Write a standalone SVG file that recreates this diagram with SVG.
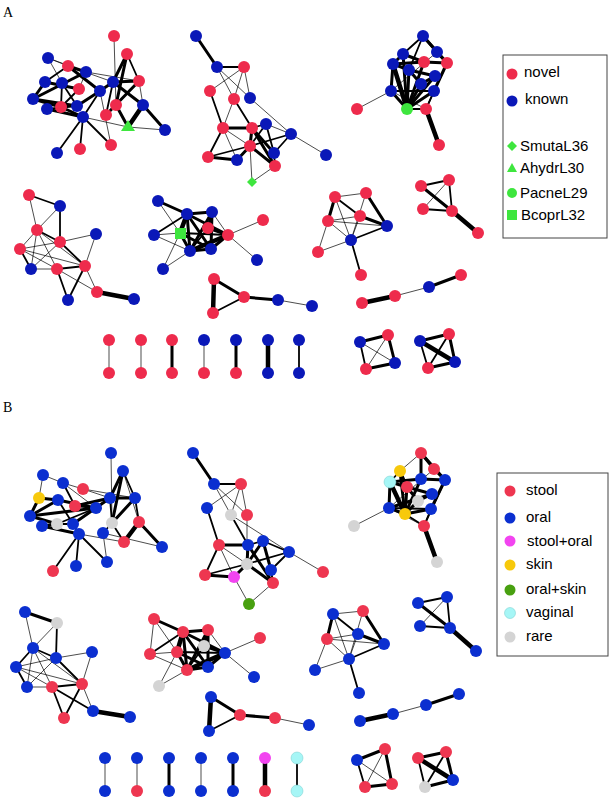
<svg xmlns="http://www.w3.org/2000/svg" width="612" height="800" viewBox="0 0 612 800">
<style>
line{stroke:#000;stroke-linecap:round}
.a{stroke-width:.7}.b{stroke-width:1.8}.c{stroke-width:3}.d{stroke-width:4.5}
circle{stroke:none}
.R{fill:#ee2b4c}.K{fill:#0a18b8}.S{fill:#ee3650}.O{fill:#0b2fd0}.M{fill:#f244f0}.Y{fill:#f7c90c}.G{fill:#48a010}.V{fill:#a6f6f6;stroke:#7cc;stroke-width:.5}.Q{fill:#d4d4d4}.L{fill:#3ee63e}
text{font-family:"Liberation Sans",Arial,sans-serif;font-size:15px;fill:#000}
.p{font-family:"Liberation Serif",serif;font-size:14px}
</style>
<rect width="612" height="800" fill="#fff"/>
<text class="p" x="3" y="17">A</text>
<text class="p" x="3" y="412">B</text>
<g id="connectors">
<!-- A cluster1 -->
<line class="a" x1="114" y1="36" x2="116" y2="105"/><line class="c" x1="127" y1="54" x2="113" y2="82"/><line class="b" x1="127" y1="54" x2="139" y2="81"/><line class="c" x1="127" y1="54" x2="116" y2="105"/>
<line class="a" x1="48" y1="58" x2="68" y2="66"/><line class="a" x1="48" y1="58" x2="86" y2="72"/><line class="b" x1="68" y1="66" x2="45" y2="82"/><line class="c" x1="68" y1="66" x2="86" y2="72"/><line class="c" x1="68" y1="66" x2="100" y2="91"/><line class="a" x1="68" y1="66" x2="113" y2="82"/>
<line class="c" x1="86" y1="72" x2="33" y2="99"/><line class="c" x1="45" y1="82" x2="33" y2="99"/><line class="c" x1="45" y1="82" x2="79" y2="89"/><line class="b" x1="62" y1="83" x2="61" y2="107"/><line class="b" x1="62" y1="83" x2="77" y2="106"/><line class="b" x1="79" y1="89" x2="61" y2="107"/>
<line class="c" x1="33" y1="99" x2="77" y2="106"/><line class="c" x1="33" y1="99" x2="61" y2="107"/><line class="b" x1="47" y1="109" x2="77" y2="106"/><line class="c" x1="47" y1="109" x2="83" y2="117"/><line class="c" x1="61" y1="107" x2="83" y2="117"/><line class="c" x1="77" y1="106" x2="100" y2="91"/>
<line class="c" x1="100" y1="91" x2="113" y2="82"/><line class="c" x1="113" y1="82" x2="139" y2="81"/><line class="c" x1="113" y1="82" x2="143" y2="105"/><line class="b" x1="113" y1="82" x2="106" y2="115"/><line class="a" x1="139" y1="81" x2="143" y2="105"/><line class="c" x1="139" y1="81" x2="106" y2="115"/>
<line class="a" x1="116" y1="105" x2="106" y2="115"/><line class="c" x1="116" y1="105" x2="128" y2="127"/><line class="d" x1="143" y1="105" x2="128" y2="127"/><line class="c" x1="143" y1="105" x2="165" y2="130"/><line class="a" x1="128" y1="127" x2="165" y2="130"/>
<line class="b" x1="83" y1="117" x2="57" y2="153"/><line class="b" x1="83" y1="117" x2="80" y2="149"/><line class="b" x1="83" y1="117" x2="111" y2="145"/><line class="a" x1="100" y1="91" x2="111" y2="145"/><line class="a" x1="83" y1="117" x2="128" y2="127"/><line class="b" x1="100" y1="91" x2="83" y2="117"/><line class="a" x1="86" y1="72" x2="79" y2="89"/><line class="a" x1="48" y1="58" x2="62" y2="83"/><line class="a" x1="86" y1="72" x2="139" y2="81"/>
<!-- A cluster2 -->
<line class="c" x1="196" y1="36" x2="217" y2="67"/><line class="b" x1="217" y1="67" x2="244" y2="67"/><line class="a" x1="217" y1="67" x2="234" y2="99"/><line class="a" x1="217" y1="67" x2="250" y2="98"/><line class="a" x1="244" y1="67" x2="210" y2="91"/><line class="a" x1="244" y1="67" x2="234" y2="99"/><line class="a" x1="244" y1="67" x2="250" y2="98"/>
<line class="b" x1="210" y1="91" x2="223" y2="128"/><line class="a" x1="234" y1="99" x2="223" y2="128"/><line class="b" x1="234" y1="99" x2="252" y2="128"/><line class="a" x1="250" y1="98" x2="291" y2="134"/><line class="c" x1="223" y1="128" x2="252" y2="128"/><line class="b" x1="223" y1="128" x2="208" y2="157"/><line class="a" x1="223" y1="128" x2="237" y2="160"/><line class="a" x1="223" y1="128" x2="250" y2="146"/>
<line class="b" x1="252" y1="128" x2="266" y2="124"/><line class="c" x1="252" y1="128" x2="250" y2="146"/><line class="c" x1="252" y1="128" x2="274" y2="153"/><line class="c" x1="252" y1="128" x2="275" y2="166"/><line class="b" x1="266" y1="124" x2="250" y2="146"/><line class="a" x1="266" y1="124" x2="291" y2="134"/><line class="b" x1="291" y1="134" x2="250" y2="146"/><line class="b" x1="291" y1="134" x2="274" y2="153"/><line class="a" x1="291" y1="134" x2="326" y2="155"/>
<line class="b" x1="250" y1="146" x2="208" y2="157"/><line class="c" x1="250" y1="146" x2="237" y2="160"/><line class="c" x1="250" y1="146" x2="275" y2="166"/><line class="b" x1="274" y1="153" x2="275" y2="166"/><line class="c" x1="208" y1="157" x2="237" y2="160"/><line class="a" x1="250" y1="146" x2="252" y2="182"/><line class="a" x1="275" y1="166" x2="252" y2="182"/><line class="b" x1="266" y1="124" x2="274" y2="153"/>
<!-- A cluster3 -->
<line class="b" x1="29" y1="195" x2="60" y2="206"/><line class="a" x1="29" y1="195" x2="37" y2="230"/><line class="a" x1="60" y1="206" x2="37" y2="230"/><line class="b" x1="60" y1="206" x2="60" y2="242"/><line class="b" x1="37" y1="230" x2="60" y2="242"/><line class="a" x1="37" y1="230" x2="20" y2="249"/><line class="a" x1="37" y1="230" x2="31" y2="269"/><line class="a" x1="37" y1="230" x2="57" y2="269"/><line class="a" x1="37" y1="230" x2="85" y2="266"/>
<line class="a" x1="60" y1="242" x2="96" y2="234"/><line class="a" x1="60" y1="242" x2="20" y2="249"/><line class="a" x1="60" y1="242" x2="31" y2="269"/><line class="b" x1="60" y1="242" x2="85" y2="266"/><line class="b" x1="20" y1="249" x2="31" y2="269"/><line class="a" x1="20" y1="249" x2="57" y2="269"/><line class="a" x1="20" y1="249" x2="85" y2="266"/><line class="a" x1="31" y1="269" x2="57" y2="269"/><line class="b" x1="57" y1="269" x2="85" y2="266"/>
<line class="b" x1="57" y1="269" x2="68" y2="300"/><line class="b" x1="85" y1="266" x2="68" y2="300"/><line class="a" x1="57" y1="269" x2="97" y2="292"/><line class="a" x1="85" y1="266" x2="97" y2="292"/><line class="a" x1="96" y1="234" x2="85" y2="266"/><line class="d" x1="97" y1="292" x2="134" y2="299"/>
<!-- A cluster4 -->
<line class="c" x1="158" y1="201" x2="187" y2="214"/><line class="a" x1="158" y1="201" x2="180" y2="233"/><line class="b" x1="154" y1="235" x2="187" y2="214"/><line class="a" x1="154" y1="235" x2="180" y2="233"/><line class="a" x1="154" y1="235" x2="190" y2="251"/><line class="a" x1="180" y1="233" x2="163" y2="269"/><line class="a" x1="190" y1="251" x2="163" y2="269"/><line class="a" x1="228" y1="235" x2="263" y2="220"/><line class="a" x1="228" y1="235" x2="257" y2="260"/><line class="a" x1="212" y1="212" x2="228" y2="235"/>
<line class="c" x1="187" y1="214" x2="212" y2="212"/><line class="d" x1="187" y1="214" x2="180" y2="233"/><line class="c" x1="187" y1="214" x2="190" y2="251"/><line class="c" x1="187" y1="214" x2="211" y2="249"/><line class="c" x1="187" y1="214" x2="228" y2="235"/><line class="c" x1="212" y1="212" x2="208" y2="228"/><line class="c" x1="212" y1="212" x2="190" y2="251"/><line class="c" x1="212" y1="212" x2="211" y2="249"/><line class="c" x1="180" y1="233" x2="190" y2="251"/><line class="c" x1="180" y1="233" x2="211" y2="249"/><line class="c" x1="190" y1="251" x2="211" y2="249"/><line class="d" x1="190" y1="251" x2="228" y2="235"/><line class="c" x1="211" y1="249" x2="228" y2="235"/><line class="c" x1="208" y1="228" x2="228" y2="235"/><line class="b" x1="180" y1="233" x2="228" y2="235"/><line class="b" x1="208" y1="228" x2="190" y2="251"/>
<!-- A triangle -->
<line class="c" x1="214" y1="279" x2="244" y2="297"/><line class="d" x1="214" y1="279" x2="213" y2="313"/><line class="b" x1="244" y1="297" x2="213" y2="313"/><line class="c" x1="244" y1="297" x2="278" y2="300"/><line class="a" x1="278" y1="300" x2="312" y2="306"/>
<!-- A pairs -->
<line class="a" x1="109" y1="340" x2="109" y2="373"/><line class="a" x1="141" y1="340" x2="141" y2="373"/><line class="c" x1="172" y1="340" x2="172" y2="373"/><line class="a" x1="204" y1="340" x2="204" y2="373"/><line class="c" x1="236" y1="340" x2="236" y2="373"/><line class="d" x1="268" y1="340" x2="268" y2="373"/><line class="b" x1="299" y1="340" x2="299" y2="373"/>
<!-- A cluster5 -->
<line class="a" x1="391" y1="91" x2="357" y2="109"/><line class="d" x1="426" y1="109" x2="439" y2="145"/>
<line class="b" x1="423" y1="36" x2="403" y2="54"/><line class="c" x1="423" y1="36" x2="437" y2="52"/><line class="c" x1="423" y1="36" x2="447" y2="63"/><line class="b" x1="423" y1="36" x2="409" y2="70"/><line class="c" x1="403" y1="54" x2="393" y2="64"/><line class="c" x1="403" y1="54" x2="424" y2="62"/><line class="c" x1="437" y1="52" x2="447" y2="63"/><line class="c" x1="424" y1="62" x2="447" y2="63"/><line class="c" x1="393" y1="64" x2="391" y2="91"/><line class="c" x1="393" y1="64" x2="409" y2="70"/><line class="c" x1="409" y1="70" x2="435" y2="76"/><line class="c" x1="409" y1="70" x2="407" y2="109"/><line class="c" x1="435" y1="76" x2="421" y2="84"/><line class="c" x1="447" y1="63" x2="434" y2="91"/><line class="c" x1="391" y1="91" x2="407" y2="109"/><line class="d" x1="393" y1="64" x2="407" y2="109"/><line class="c" x1="403" y1="54" x2="407" y2="109"/><line class="c" x1="424" y1="62" x2="407" y2="109"/><line class="c" x1="421" y1="84" x2="407" y2="109"/><line class="c" x1="434" y1="91" x2="407" y2="109"/><line class="c" x1="435" y1="76" x2="407" y2="109"/><line class="b" x1="447" y1="63" x2="426" y2="109"/><line class="b" x1="434" y1="91" x2="426" y2="109"/><line class="b" x1="407" y1="109" x2="426" y2="109"/><line class="c" x1="409" y1="70" x2="421" y2="84"/><line class="b" x1="391" y1="91" x2="434" y2="91"/><line class="a" x1="437" y1="52" x2="391" y2="91"/><line class="c" x1="424" y1="62" x2="393" y2="64"/><line class="a" x1="391" y1="91" x2="426" y2="109"/>
<!-- A cluster6 -->
<line class="c" x1="335" y1="197" x2="328" y2="221"/><line class="b" x1="335" y1="197" x2="360" y2="216"/><line class="a" x1="335" y1="197" x2="366" y2="193"/><line class="c" x1="366" y1="193" x2="387" y2="226"/><line class="c" x1="360" y1="216" x2="387" y2="226"/><line class="a" x1="328" y1="221" x2="360" y2="216"/><line class="a" x1="328" y1="221" x2="351" y2="240"/><line class="a" x1="335" y1="197" x2="351" y2="240"/><line class="a" x1="360" y1="216" x2="351" y2="240"/><line class="a" x1="328" y1="221" x2="318" y2="252"/><line class="a" x1="318" y1="252" x2="351" y2="240"/><line class="b" x1="387" y1="226" x2="351" y2="240"/><line class="b" x1="351" y1="240" x2="361" y2="275"/><line class="a" x1="366" y1="193" x2="351" y2="240"/><line class="a" x1="328" y1="221" x2="387" y2="226"/>
<!-- A cluster7 -->
<line class="b" x1="421" y1="186" x2="449" y2="180"/><line class="c" x1="421" y1="186" x2="452" y2="211"/><line class="b" x1="449" y1="180" x2="452" y2="211"/><line class="a" x1="449" y1="180" x2="423" y2="209"/><line class="b" x1="423" y1="209" x2="452" y2="211"/><line class="d" x1="452" y1="211" x2="478" y2="233"/>
<line class="d" x1="362" y1="303" x2="395" y2="296"/><line class="a" x1="395" y1="296" x2="429" y2="287"/><line class="c" x1="429" y1="287" x2="461" y2="275"/>
<line class="c" x1="360" y1="342" x2="388" y2="335"/><line class="a" x1="360" y1="342" x2="395" y2="363"/><line class="b" x1="360" y1="342" x2="366" y2="369"/><line class="a" x1="388" y1="335" x2="366" y2="369"/><line class="c" x1="388" y1="335" x2="395" y2="363"/><line class="c" x1="395" y1="363" x2="366" y2="369"/>
<line class="c" x1="420" y1="341" x2="449" y2="334"/><line class="d" x1="420" y1="341" x2="455" y2="362"/><line class="b" x1="420" y1="341" x2="428" y2="368"/><line class="b" x1="449" y1="334" x2="428" y2="368"/><line class="c" x1="449" y1="334" x2="455" y2="362"/><line class="c" x1="455" y1="362" x2="428" y2="368"/>
<!-- B cluster1 -->
<line class="a" x1="111" y1="453" x2="112" y2="523"/><line class="c" x1="123" y1="471" x2="112" y2="523"/><line class="c" x1="123" y1="471" x2="110" y2="498"/><line class="b" x1="123" y1="471" x2="135" y2="498"/><line class="a" x1="123" y1="471" x2="139" y2="522"/>
<line class="a" x1="43" y1="475" x2="63" y2="483"/><line class="a" x1="43" y1="475" x2="39" y2="498"/><line class="b" x1="63" y1="483" x2="75" y2="506"/><line class="a" x1="63" y1="483" x2="83" y2="489"/><line class="a" x1="63" y1="483" x2="96" y2="508"/><line class="a" x1="83" y1="489" x2="110" y2="498"/><line class="c" x1="39" y1="498" x2="58" y2="500"/><line class="c" x1="39" y1="498" x2="30" y2="516"/><line class="c" x1="58" y1="500" x2="30" y2="516"/><line class="b" x1="58" y1="500" x2="73" y2="524"/><line class="c" x1="75" y1="506" x2="110" y2="498"/><line class="c" x1="30" y1="516" x2="57" y2="524"/><line class="c" x1="42" y1="526" x2="57" y2="524"/><line class="b" x1="57" y1="524" x2="73" y2="524"/><line class="b" x1="73" y1="524" x2="79" y2="534"/><line class="c" x1="42" y1="526" x2="79" y2="534"/><line class="c" x1="110" y1="498" x2="135" y2="498"/><line class="b" x1="110" y1="498" x2="112" y2="523"/><line class="c" x1="135" y1="498" x2="112" y2="523"/><line class="b" x1="135" y1="498" x2="139" y2="522"/><line class="b" x1="112" y1="523" x2="103" y2="533"/><line class="b" x1="112" y1="523" x2="124" y2="542"/><line class="d" x1="139" y1="522" x2="124" y2="542"/><line class="c" x1="139" y1="522" x2="162" y2="547"/><line class="a" x1="103" y1="533" x2="162" y2="547"/>
<line class="b" x1="79" y1="534" x2="53" y2="571"/><line class="b" x1="79" y1="534" x2="76" y2="566"/><line class="b" x1="79" y1="534" x2="107" y2="562"/><line class="a" x1="103" y1="533" x2="107" y2="562"/><line class="a" x1="79" y1="534" x2="124" y2="542"/><line class="b" x1="96" y1="508" x2="110" y2="498"/><line class="b" x1="96" y1="508" x2="75" y2="506"/><line class="a" x1="83" y1="489" x2="135" y2="498"/><line class="c" x1="30" y1="516" x2="96" y2="508"/><line class="c" x1="58" y1="500" x2="96" y2="508"/><line class="b" x1="57" y1="524" x2="96" y2="508"/><line class="c" x1="73" y1="524" x2="110" y2="498"/>
<!-- B cluster2 -->
<line class="c" x1="193" y1="453" x2="214" y2="484"/><line class="b" x1="214" y1="484" x2="241" y2="484"/><line class="a" x1="214" y1="484" x2="231" y2="515"/><line class="a" x1="214" y1="484" x2="247" y2="515"/><line class="a" x1="241" y1="484" x2="207" y2="508"/><line class="a" x1="241" y1="484" x2="231" y2="515"/><line class="a" x1="241" y1="484" x2="247" y2="515"/>
<line class="b" x1="207" y1="508" x2="219" y2="545"/><line class="b" x1="231" y1="515" x2="248" y2="545"/><line class="a" x1="247" y1="515" x2="247" y2="564"/><line class="a" x1="231" y1="515" x2="289" y2="552"/><line class="c" x1="219" y1="545" x2="248" y2="545"/><line class="b" x1="219" y1="545" x2="205" y2="575"/><line class="a" x1="219" y1="545" x2="247" y2="564"/><line class="a" x1="219" y1="545" x2="234" y2="577"/>
<line class="b" x1="248" y1="545" x2="263" y2="541"/><line class="c" x1="248" y1="545" x2="247" y2="564"/><line class="c" x1="263" y1="541" x2="247" y2="564"/><line class="c" x1="263" y1="541" x2="271" y2="570"/><line class="b" x1="263" y1="541" x2="289" y2="552"/><line class="b" x1="289" y1="552" x2="247" y2="564"/><line class="b" x1="289" y1="552" x2="271" y2="570"/><line class="a" x1="289" y1="552" x2="323" y2="572"/><line class="c" x1="247" y1="564" x2="273" y2="583"/><line class="b" x1="247" y1="564" x2="205" y2="575"/><line class="c" x1="247" y1="564" x2="234" y2="577"/><line class="c" x1="205" y1="575" x2="234" y2="577"/><line class="b" x1="271" y1="570" x2="273" y2="583"/><line class="a" x1="234" y1="577" x2="249" y2="604"/><line class="a" x1="273" y1="583" x2="249" y2="604"/><line class="c" x1="248" y1="545" x2="273" y2="583"/>
<!-- B cluster3 -->
<line class="c" x1="25" y1="612" x2="57" y2="623"/><line class="a" x1="25" y1="612" x2="33" y2="648"/><line class="a" x1="57" y1="623" x2="33" y2="648"/><line class="b" x1="57" y1="623" x2="56" y2="658"/><line class="b" x1="33" y1="648" x2="56" y2="658"/><line class="b" x1="33" y1="648" x2="16" y2="667"/><line class="a" x1="33" y1="648" x2="27" y2="687"/><line class="a" x1="33" y1="648" x2="52" y2="687"/><line class="a" x1="33" y1="648" x2="82" y2="684"/>
<line class="a" x1="56" y1="658" x2="92" y2="652"/><line class="a" x1="56" y1="658" x2="16" y2="667"/><line class="a" x1="56" y1="658" x2="27" y2="687"/><line class="b" x1="56" y1="658" x2="82" y2="684"/><line class="b" x1="16" y1="667" x2="27" y2="687"/><line class="a" x1="16" y1="667" x2="52" y2="687"/><line class="a" x1="16" y1="667" x2="82" y2="684"/><line class="a" x1="27" y1="687" x2="52" y2="687"/><line class="b" x1="52" y1="687" x2="82" y2="684"/>
<line class="b" x1="52" y1="687" x2="64" y2="718"/><line class="b" x1="82" y1="684" x2="64" y2="718"/><line class="b" x1="52" y1="687" x2="93" y2="711"/><line class="a" x1="82" y1="684" x2="93" y2="711"/><line class="a" x1="92" y1="652" x2="82" y2="684"/><line class="d" x1="93" y1="711" x2="130" y2="717"/>
<!-- B cluster4 -->
<line class="c" x1="154" y1="619" x2="183" y2="632"/><line class="a" x1="154" y1="619" x2="177" y2="652"/><line class="a" x1="154" y1="619" x2="150" y2="654"/><line class="b" x1="150" y1="654" x2="183" y2="632"/><line class="a" x1="150" y1="654" x2="177" y2="652"/><line class="a" x1="150" y1="654" x2="187" y2="670"/><line class="a" x1="177" y1="652" x2="159" y2="686"/><line class="a" x1="187" y1="670" x2="159" y2="686"/><line class="a" x1="225" y1="653" x2="260" y2="638"/><line class="a" x1="225" y1="653" x2="254" y2="677"/><line class="a" x1="208" y1="630" x2="225" y2="653"/>
<line class="c" x1="183" y1="632" x2="208" y2="630"/><line class="d" x1="183" y1="632" x2="177" y2="652"/><line class="c" x1="183" y1="632" x2="187" y2="670"/><line class="c" x1="183" y1="632" x2="208" y2="667"/><line class="c" x1="183" y1="632" x2="225" y2="653"/><line class="c" x1="208" y1="630" x2="204" y2="646"/><line class="c" x1="208" y1="630" x2="187" y2="670"/><line class="c" x1="208" y1="630" x2="208" y2="667"/><line class="c" x1="177" y1="652" x2="187" y2="670"/><line class="c" x1="177" y1="652" x2="208" y2="667"/><line class="c" x1="187" y1="670" x2="208" y2="667"/><line class="d" x1="187" y1="670" x2="225" y2="653"/><line class="c" x1="208" y1="667" x2="225" y2="653"/><line class="c" x1="204" y1="646" x2="225" y2="653"/><line class="b" x1="177" y1="652" x2="225" y2="653"/><line class="b" x1="204" y1="646" x2="187" y2="670"/>
<!-- B triangle -->
<line class="c" x1="211" y1="697" x2="240" y2="715"/><line class="d" x1="211" y1="697" x2="209" y2="731"/><line class="b" x1="240" y1="715" x2="209" y2="731"/><line class="c" x1="240" y1="715" x2="275" y2="718"/><line class="a" x1="275" y1="718" x2="309" y2="725"/>
<!-- B pairs -->
<line class="a" x1="105" y1="758" x2="105" y2="791"/><line class="a" x1="137" y1="758" x2="137" y2="791"/><line class="c" x1="169" y1="758" x2="169" y2="791"/><line class="a" x1="201" y1="758" x2="201" y2="791"/><line class="c" x1="233" y1="758" x2="233" y2="791"/><line class="d" x1="265" y1="758" x2="265" y2="791"/><line class="b" x1="297" y1="758" x2="297" y2="791"/>
<!-- B cluster5 -->
<line class="a" x1="389" y1="508" x2="354" y2="526"/><line class="d" x1="424" y1="526" x2="437" y2="562"/>
<line class="a" x1="421" y1="453" x2="400" y2="471"/><line class="c" x1="421" y1="453" x2="434" y2="469"/><line class="c" x1="421" y1="453" x2="421" y2="479"/><line class="c" x1="421" y1="453" x2="445" y2="480"/><line class="b" x1="400" y1="471" x2="390" y2="482"/><line class="c" x1="400" y1="471" x2="407" y2="487"/><line class="c" x1="434" y1="469" x2="445" y2="480"/><line class="c" x1="421" y1="479" x2="445" y2="480"/><line class="c" x1="390" y1="482" x2="389" y2="508"/><line class="c" x1="390" y1="482" x2="407" y2="487"/><line class="c" x1="407" y1="487" x2="432" y2="494"/><line class="c" x1="407" y1="487" x2="405" y2="514"/><line class="c" x1="432" y1="494" x2="418" y2="501"/><line class="c" x1="445" y1="480" x2="431" y2="509"/><line class="c" x1="389" y1="508" x2="405" y2="514"/><line class="d" x1="390" y1="482" x2="405" y2="514"/><line class="c" x1="400" y1="471" x2="405" y2="514"/><line class="c" x1="421" y1="479" x2="405" y2="514"/><line class="c" x1="418" y1="501" x2="405" y2="514"/><line class="c" x1="431" y1="509" x2="405" y2="514"/><line class="c" x1="432" y1="494" x2="389" y2="508"/><line class="b" x1="445" y1="480" x2="424" y2="526"/><line class="b" x1="431" y1="509" x2="424" y2="526"/><line class="b" x1="405" y1="514" x2="424" y2="526"/><line class="c" x1="407" y1="487" x2="418" y2="501"/><line class="b" x1="389" y1="508" x2="431" y2="509"/><line class="a" x1="434" y1="469" x2="389" y2="508"/><line class="c" x1="421" y1="479" x2="390" y2="482"/><line class="a" x1="389" y1="508" x2="424" y2="526"/>
<!-- B cluster6 -->
<line class="c" x1="333" y1="614" x2="327" y2="639"/><line class="b" x1="333" y1="614" x2="358" y2="634"/><line class="a" x1="333" y1="614" x2="363" y2="611"/><line class="c" x1="363" y1="611" x2="384" y2="644"/><line class="c" x1="358" y1="634" x2="384" y2="644"/><line class="a" x1="327" y1="639" x2="358" y2="634"/><line class="a" x1="327" y1="639" x2="349" y2="659"/><line class="a" x1="333" y1="614" x2="349" y2="659"/><line class="a" x1="358" y1="634" x2="349" y2="659"/><line class="a" x1="327" y1="639" x2="315" y2="670"/><line class="a" x1="315" y1="670" x2="349" y2="659"/><line class="b" x1="384" y1="644" x2="349" y2="659"/><line class="b" x1="349" y1="659" x2="359" y2="693"/><line class="a" x1="363" y1="611" x2="349" y2="659"/><line class="a" x1="327" y1="639" x2="384" y2="644"/>
<!-- B cluster7 -->
<line class="b" x1="418" y1="603" x2="447" y2="597"/><line class="c" x1="418" y1="603" x2="450" y2="628"/><line class="b" x1="447" y1="597" x2="450" y2="628"/><line class="a" x1="447" y1="597" x2="420" y2="626"/><line class="b" x1="420" y1="626" x2="450" y2="628"/><line class="d" x1="450" y1="628" x2="476" y2="651"/>
<line class="d" x1="360" y1="721" x2="393" y2="714"/><line class="a" x1="393" y1="714" x2="426" y2="705"/><line class="c" x1="426" y1="705" x2="459" y2="694"/>
<line class="c" x1="357" y1="760" x2="385" y2="749"/><line class="a" x1="357" y1="760" x2="392" y2="784"/><line class="b" x1="357" y1="760" x2="365" y2="787"/><line class="a" x1="385" y1="749" x2="365" y2="787"/><line class="c" x1="385" y1="749" x2="392" y2="784"/><line class="c" x1="392" y1="784" x2="365" y2="787"/>
<line class="c" x1="418" y1="758" x2="446" y2="752"/><line class="d" x1="418" y1="758" x2="453" y2="780"/><line class="b" x1="418" y1="758" x2="425" y2="787"/><line class="b" x1="446" y1="752" x2="425" y2="787"/><line class="c" x1="446" y1="752" x2="453" y2="780"/><line class="c" x1="453" y1="780" x2="425" y2="787"/>
</g>
<g id="nodesA">
<circle class="R" cx="114" cy="36" r="6"/><circle class="R" cx="127" cy="54" r="6"/><circle class="K" cx="48" cy="58" r="6"/><circle class="R" cx="68" cy="66" r="6"/><circle class="K" cx="86" cy="72" r="6"/><circle class="K" cx="45" cy="82" r="6"/><circle class="K" cx="62" cy="83" r="6"/><circle class="R" cx="79" cy="89" r="6"/><circle class="K" cx="100" cy="91" r="6"/><circle class="K" cx="113" cy="82" r="6"/><circle class="R" cx="139" cy="81" r="6"/><circle class="K" cx="33" cy="99" r="6"/><circle class="K" cx="47" cy="109" r="6"/><circle class="R" cx="61" cy="107" r="6"/><circle class="K" cx="77" cy="106" r="6"/><circle class="R" cx="116" cy="105" r="6"/><circle class="K" cx="143" cy="105" r="6"/><circle class="K" cx="83" cy="117" r="6"/><circle class="R" cx="106" cy="115" r="6"/><polygon id="AhydrL30" class="L" points="128,120 135,131 121,131"/><circle class="K" cx="165" cy="130" r="6"/><circle class="K" cx="57" cy="153" r="6"/><circle class="R" cx="80" cy="149" r="6"/><circle class="R" cx="111" cy="145" r="6"/>
<circle class="K" cx="196" cy="36" r="6"/><circle class="K" cx="217" cy="67" r="6"/><circle class="R" cx="244" cy="67" r="6"/><circle class="R" cx="210" cy="91" r="6"/><circle class="R" cx="234" cy="99" r="6"/><circle class="K" cx="250" cy="98" r="6"/><circle class="R" cx="223" cy="128" r="6"/><circle class="R" cx="252" cy="128" r="6"/><circle class="K" cx="266" cy="124" r="6"/><circle class="K" cx="291" cy="134" r="6"/><circle class="R" cx="250" cy="146" r="6"/><circle class="K" cx="274" cy="153" r="6"/><circle class="R" cx="208" cy="157" r="6"/><circle class="K" cx="237" cy="160" r="6"/><circle class="R" cx="275" cy="166" r="6"/><circle class="K" cx="326" cy="155" r="6"/><polygon id="SmutaL36" class="L" points="252,177 257,182 252,187 247,182"/>
<circle class="R" cx="29" cy="195" r="6"/><circle class="K" cx="60" cy="206" r="6"/><circle class="R" cx="37" cy="230" r="6"/><circle class="R" cx="60" cy="242" r="6"/><circle class="K" cx="96" cy="234" r="6"/><circle class="R" cx="20" cy="249" r="6"/><circle class="K" cx="31" cy="269" r="6"/><circle class="R" cx="57" cy="269" r="6"/><circle class="R" cx="85" cy="266" r="6"/><circle class="R" cx="97" cy="292" r="6"/><circle class="K" cx="68" cy="300" r="6"/><circle class="K" cx="134" cy="299" r="6"/>
<circle class="K" cx="158" cy="201" r="6"/><circle class="K" cx="187" cy="214" r="6"/><circle class="K" cx="212" cy="212" r="6"/><circle class="R" cx="263" cy="220" r="6"/><circle class="K" cx="154" cy="235" r="6"/><rect id="BcoprL32" class="L" x="175" y="228" width="11" height="11"/><circle class="K" cx="190" cy="251" r="6"/><circle class="K" cx="211" cy="249" r="6"/><circle class="R" cx="208" cy="228" r="6"/><circle class="R" cx="228" cy="235" r="6"/><circle class="K" cx="163" cy="269" r="6"/><circle class="K" cx="257" cy="260" r="6"/>
<circle class="R" cx="214" cy="279" r="6"/><circle class="R" cx="244" cy="297" r="6"/><circle class="R" cx="213" cy="313" r="6"/><circle class="K" cx="278" cy="300" r="6"/><circle class="K" cx="312" cy="306" r="6"/>
<circle class="R" cx="109" cy="340" r="6"/><circle class="R" cx="141" cy="340" r="6"/><circle class="R" cx="172" cy="340" r="6"/><circle class="K" cx="204" cy="340" r="6"/><circle class="K" cx="236" cy="340" r="6"/><circle class="K" cx="268" cy="340" r="6"/><circle class="K" cx="299" cy="340" r="6"/>
<circle class="R" cx="109" cy="373" r="6"/><circle class="R" cx="141" cy="373" r="6"/><circle class="R" cx="172" cy="373" r="6"/><circle class="R" cx="204" cy="373" r="6"/><circle class="R" cx="236" cy="373" r="6"/><circle class="K" cx="268" cy="373" r="6"/><circle class="K" cx="299" cy="373" r="6"/>
<circle class="K" cx="423" cy="36" r="6"/><circle class="K" cx="403" cy="54" r="6"/><circle class="K" cx="437" cy="52" r="6"/><circle class="K" cx="393" cy="64" r="6"/><circle class="R" cx="424" cy="62" r="6"/><circle class="R" cx="447" cy="63" r="6"/><circle class="K" cx="409" cy="70" r="6"/><circle class="K" cx="435" cy="76" r="6"/><circle class="K" cx="421" cy="84" r="6"/><circle class="K" cx="391" cy="91" r="6"/><circle class="K" cx="434" cy="91" r="6"/><circle class="R" cx="357" cy="109" r="6"/><circle id="PacneL29" class="L" cx="407" cy="109" r="6"/><circle class="R" cx="426" cy="109" r="6"/><circle class="R" cx="439" cy="145" r="6"/>
<circle class="R" cx="335" cy="197" r="6"/><circle class="R" cx="366" cy="193" r="6"/><circle class="R" cx="328" cy="221" r="6"/><circle class="R" cx="360" cy="216" r="6"/><circle class="K" cx="387" cy="226" r="6"/><circle class="K" cx="351" cy="240" r="6"/><circle class="R" cx="318" cy="252" r="6"/><circle class="R" cx="361" cy="275" r="6"/>
<circle class="R" cx="421" cy="186" r="6"/><circle class="R" cx="449" cy="180" r="6"/><circle class="R" cx="423" cy="209" r="6"/><circle class="R" cx="452" cy="211" r="6"/><circle class="R" cx="478" cy="233" r="6"/>
<circle class="R" cx="362" cy="303" r="6"/><circle class="R" cx="395" cy="296" r="6"/><circle class="K" cx="429" cy="287" r="6"/><circle class="R" cx="461" cy="275" r="6"/>
<circle class="K" cx="360" cy="342" r="6"/><circle class="R" cx="388" cy="335" r="6"/><circle class="K" cx="395" cy="363" r="6"/><circle class="R" cx="366" cy="369" r="6"/><circle class="K" cx="420" cy="341" r="6"/><circle class="R" cx="449" cy="334" r="6"/><circle class="K" cx="455" cy="362" r="6"/><circle class="R" cx="428" cy="368" r="6"/>
</g>
<g id="nodesB">
<circle class="O" cx="111" cy="453" r="6"/><circle class="O" cx="123" cy="471" r="6"/><circle class="O" cx="43" cy="475" r="6"/><circle class="O" cx="63" cy="483" r="6"/><circle class="S" cx="83" cy="489" r="6"/><circle class="Y" cx="39" cy="498" r="6"/><circle class="O" cx="58" cy="500" r="6"/><circle class="S" cx="75" cy="506" r="6"/><circle class="O" cx="110" cy="498" r="6"/><circle class="O" cx="135" cy="498" r="6"/><circle class="O" cx="96" cy="508" r="6"/><circle class="O" cx="30" cy="516" r="6"/><circle class="O" cx="42" cy="526" r="6"/><circle class="Q" cx="57" cy="524" r="6"/><circle class="O" cx="73" cy="524" r="6"/><circle class="Q" cx="112" cy="523" r="6"/><circle class="S" cx="139" cy="522" r="6"/><circle class="O" cx="79" cy="534" r="6"/><circle class="O" cx="103" cy="533" r="6"/><circle class="S" cx="124" cy="542" r="6"/><circle class="O" cx="162" cy="547" r="6"/><circle class="S" cx="53" cy="571" r="6"/><circle class="O" cx="76" cy="566" r="6"/><circle class="O" cx="107" cy="562" r="6"/>
<circle class="O" cx="193" cy="453" r="6"/><circle class="O" cx="214" cy="484" r="6"/><circle class="S" cx="241" cy="484" r="6"/><circle class="O" cx="207" cy="508" r="6"/><circle class="Q" cx="231" cy="515" r="6"/><circle class="S" cx="247" cy="515" r="6"/><circle class="S" cx="219" cy="545" r="6"/><circle class="O" cx="248" cy="545" r="6"/><circle class="O" cx="263" cy="541" r="6"/><circle class="O" cx="289" cy="552" r="6"/><circle class="Q" cx="247" cy="564" r="6"/><circle class="O" cx="271" cy="570" r="6"/><circle class="S" cx="205" cy="575" r="6"/><circle class="M" cx="234" cy="577" r="6"/><circle class="S" cx="273" cy="583" r="6"/><circle class="S" cx="323" cy="572" r="6"/><circle class="G" cx="249" cy="604" r="6"/>
<circle class="O" cx="25" cy="612" r="6"/><circle class="Q" cx="57" cy="623" r="6"/><circle class="O" cx="33" cy="648" r="6"/><circle class="O" cx="56" cy="658" r="6"/><circle class="O" cx="92" cy="652" r="6"/><circle class="O" cx="16" cy="667" r="6"/><circle class="O" cx="27" cy="687" r="6"/><circle class="S" cx="52" cy="687" r="6"/><circle class="S" cx="82" cy="684" r="6"/><circle class="O" cx="93" cy="711" r="6"/><circle class="S" cx="64" cy="718" r="6"/><circle class="O" cx="130" cy="717" r="6"/>
<circle class="S" cx="154" cy="619" r="6"/><circle class="S" cx="183" cy="632" r="6"/><circle class="S" cx="208" cy="630" r="6"/><circle class="Q" cx="204" cy="646" r="6"/><circle class="S" cx="260" cy="638" r="6"/><circle class="S" cx="150" cy="654" r="6"/><circle class="S" cx="177" cy="652" r="6"/><circle class="O" cx="225" cy="653" r="6"/><circle class="S" cx="187" cy="670" r="6"/><circle class="O" cx="208" cy="667" r="6"/><circle class="Q" cx="159" cy="686" r="6"/><circle class="O" cx="254" cy="677" r="6"/>
<circle class="O" cx="211" cy="697" r="6"/><circle class="S" cx="240" cy="715" r="6"/><circle class="S" cx="275" cy="718" r="6"/><circle class="O" cx="209" cy="731" r="6"/><circle class="O" cx="309" cy="725" r="6"/>
<circle class="O" cx="105" cy="758" r="6"/><circle class="O" cx="137" cy="758" r="6"/><circle class="O" cx="169" cy="758" r="6"/><circle class="O" cx="201" cy="758" r="6"/><circle class="O" cx="233" cy="758" r="6"/><circle class="M" cx="265" cy="758" r="6"/><circle class="V" cx="297" cy="758" r="6"/>
<circle class="O" cx="105" cy="791" r="6"/><circle class="S" cx="137" cy="791" r="6"/><circle class="O" cx="169" cy="791" r="6"/><circle class="O" cx="201" cy="791" r="6"/><circle class="O" cx="233" cy="791" r="6"/><circle class="S" cx="265" cy="791" r="6"/><circle class="V" cx="297" cy="791" r="6"/>
<circle class="S" cx="421" cy="453" r="6"/><circle class="Y" cx="400" cy="471" r="6"/><circle class="S" cx="434" cy="469" r="6"/><circle class="V" cx="390" cy="482" r="6"/><circle class="O" cx="421" cy="479" r="6"/><circle class="O" cx="445" cy="480" r="6"/><circle class="S" cx="407" cy="487" r="6"/><circle class="O" cx="432" cy="494" r="6"/><circle class="Q" cx="418" cy="501" r="6"/><circle class="O" cx="389" cy="508" r="6"/><circle class="O" cx="431" cy="509" r="6"/><circle class="Y" cx="405" cy="514" r="6"/><circle class="S" cx="424" cy="526" r="6"/><circle class="Q" cx="354" cy="526" r="6"/><circle class="Q" cx="437" cy="562" r="6"/>
<circle class="O" cx="333" cy="614" r="6"/><circle class="S" cx="363" cy="611" r="6"/><circle class="S" cx="327" cy="639" r="6"/><circle class="O" cx="358" cy="634" r="6"/><circle class="O" cx="384" cy="644" r="6"/><circle class="O" cx="349" cy="659" r="6"/><circle class="O" cx="315" cy="670" r="6"/><circle class="O" cx="359" cy="693" r="6"/>
<circle class="O" cx="418" cy="603" r="6"/><circle class="O" cx="447" cy="597" r="6"/><circle class="O" cx="420" cy="626" r="6"/><circle class="O" cx="450" cy="628" r="6"/><circle class="O" cx="476" cy="651" r="6"/>
<circle class="O" cx="360" cy="721" r="6"/><circle class="O" cx="393" cy="714" r="6"/><circle class="O" cx="426" cy="705" r="6"/><circle class="O" cx="459" cy="694" r="6"/>
<circle class="O" cx="357" cy="760" r="6"/><circle class="S" cx="385" cy="749" r="6"/><circle class="S" cx="392" cy="784" r="6"/><circle class="S" cx="365" cy="787" r="6"/><circle class="S" cx="418" cy="758" r="6"/><circle class="S" cx="446" cy="752" r="6"/><circle class="O" cx="453" cy="780" r="6"/><circle class="Q" cx="425" cy="787" r="6"/>
</g>
<g id="legendA">
<rect x="503" y="55" width="104" height="183" fill="#fff" stroke="#444" stroke-width="1"/>
<circle class="R" cx="512" cy="74" r="5.5"/><text x="524" y="77">novel</text>
<circle class="K" cx="512" cy="101" r="5.5"/><text x="525" y="104">known</text>
<polygon class="L" points="512,141 517,146 512,151 507,146"/><text x="520" y="151">SmutaL36</text>
<polygon class="L" points="512,163 517,172 507,172"/><text x="520" y="173">AhydrL30</text>
<circle class="L" cx="512" cy="193" r="5"/><text x="520" y="198">PacneL29</text>
<rect class="L" x="507" y="210" width="10" height="10"/><text x="521" y="220">BcoprL32</text>
</g>
<g id="legendB">
<rect x="497" y="473" width="111" height="183" fill="#fff" stroke="#444" stroke-width="1"/>
<circle class="S" cx="510" cy="491" r="5.5"/><text x="526" y="495">stool</text>
<circle class="O" cx="510" cy="518" r="5.5"/><text x="526" y="522">oral</text>
<circle class="M" cx="510" cy="541" r="5.5"/><text x="527" y="546">stool+oral</text>
<circle class="Y" cx="510" cy="565" r="5.5"/><text x="526" y="569">skin</text>
<circle class="G" cx="510" cy="590" r="5.5"/><text x="526" y="594">oral+skin</text>
<circle class="V" cx="510" cy="613" r="5.5"/><text x="526" y="617">vaginal</text>
<circle class="Q" cx="510" cy="637" r="5.5"/><text x="526" y="641">rare</text>
</g>
</svg>
